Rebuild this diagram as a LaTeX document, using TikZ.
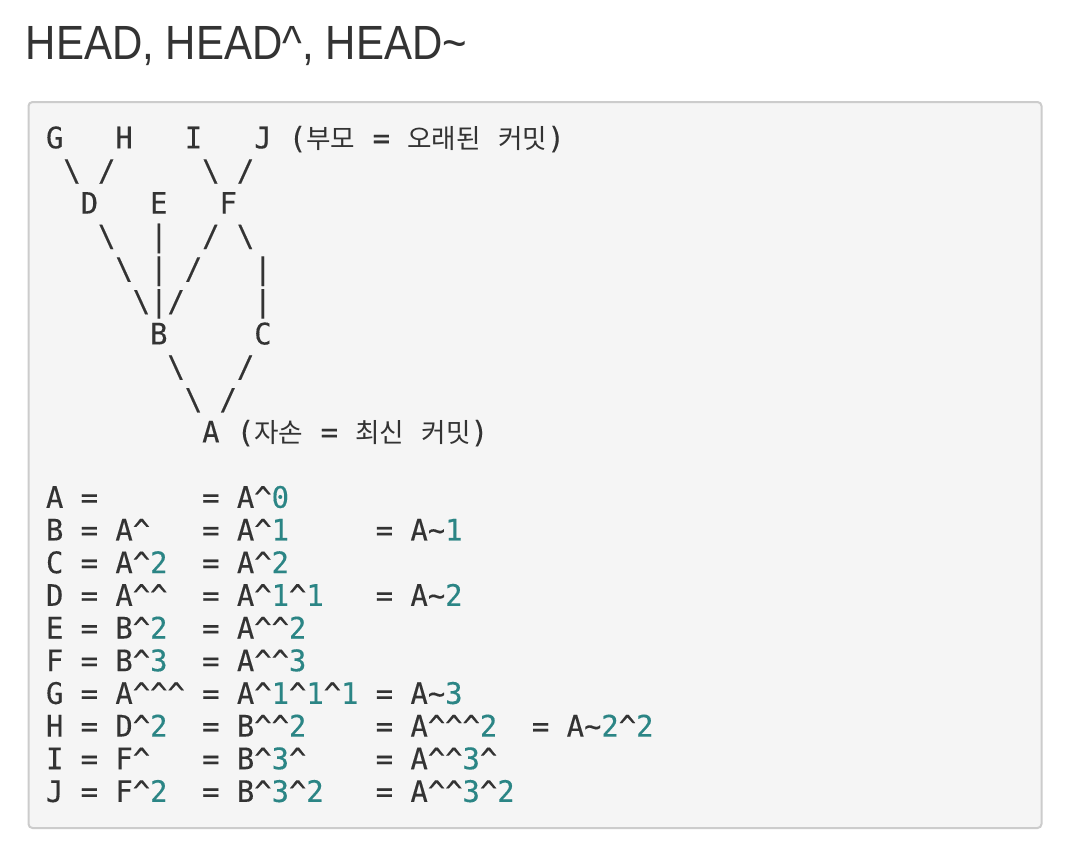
\documentclass[tikz,border=0pt]{standalone}
\usepackage{fontspec}
\setmainfont{Liberation Sans}
\newfontfamily\mono[FakeStretch=0.974,FakeBold=0.3]{DejaVu Sans Mono}
\newfontfamily\kr[Scale=0.9]{Noto Sans CJK KR}
\newfontfamily\titlefont[FakeStretch=0.875]{Liberation Sans}
\definecolor{txt}{HTML}{333333}
\definecolor{numc}{HTML}{2B8585}
\definecolor{boxfill}{HTML}{F5F5F5}
\definecolor{boxline}{HTML}{CCCCCC}
\newlength\charw
\setlength\charw{13.017pt}
\newcommand\gap[1]{\hspace*{#1\charw}}
\newcommand\crt{\textasciicircum}
\newcommand\tld{\textasciitilde}
\newcommand\bsl{\textbackslash}
\newcommand\pip{\textbar}
\newcommand\dg[1]{\textcolor{numc}{#1}}
\begin{document}
\begin{tikzpicture}[x=0.75pt,y=-0.75pt,
  codeline/.style={anchor=base west, inner sep=0pt, outer sep=0pt,
    font=\fontsize{22.2}{26}\mono, text=txt},
  titletext/.style={anchor=base west, inner sep=0pt, outer sep=0pt,
    font=\fontsize{36}{40}\titlefont, text=txt},
  codebox/.style={draw=boxline, fill=boxfill, line width=1.5pt, rounded corners=3pt}]
\useasboundingbox (0,0) rectangle (1068,844);
\fill[white] (0,0) rectangle (1068,844);
% title
\node[titletext] (title) at (26,59.3) {HEAD, HEAD\crt, HEAD\tld};
% code box
\draw[codebox] (28.5,102) rectangle (1041.5,828);
% tree
\node[codeline] (r0) at (46,148.3) {G\gap{3}H\gap{3}I\gap{3}J\gap{1}({\kr 부모}\gap{1}=\gap{1}{\kr 오래된}\gap{1}{\kr 커밋})};
\node[codeline] (r1) at (46,180.98) {\gap{1}\bsl\gap{1}/\gap{5}\bsl\gap{1}/};
\node[codeline] (r2) at (46,213.66) {\gap{2}D\gap{3}E\gap{3}F};
\node[codeline] (r3) at (46,246.34) {\gap{3}\bsl\gap{2}\pip\gap{2}/\gap{1}\bsl};
\node[codeline] (r4) at (46,279.02) {\gap{4}\bsl\gap{1}\pip\gap{1}/\gap{3}\pip};
\node[codeline] (r5) at (46,311.70) {\gap{5}\bsl\pip/\gap{4}\pip};
\node[codeline] (r6) at (46,344.38) {\gap{6}B\gap{5}C};
\node[codeline] (r7) at (46,377.06) {\gap{7}\bsl\gap{3}/};
\node[codeline] (r8) at (46,409.74) {\gap{8}\bsl\gap{1}/};
\node[codeline] (r9) at (46,442.42) {\gap{9}A\gap{1}({\kr 자손}\gap{1}=\gap{1}{\kr 최신}\gap{1}{\kr 커밋})};
% table
\node[codeline] (t0) at (46,507.78) {A\gap{1}=\gap{6}=\gap{1}A\crt\dg{0}};
\node[codeline] (t1) at (46,540.46) {B\gap{1}=\gap{1}A\crt\gap{3}=\gap{1}A\crt\dg{1}\gap{5}=\gap{1}A\tld\dg{1}};
\node[codeline] (t2) at (46,573.14) {C\gap{1}=\gap{1}A\crt\dg{2}\gap{2}=\gap{1}A\crt\dg{2}};
\node[codeline] (t3) at (46,605.82) {D\gap{1}=\gap{1}A\crt\crt\gap{2}=\gap{1}A\crt\dg{1}\crt\dg{1}\gap{3}=\gap{1}A\tld\dg{2}};
\node[codeline] (t4) at (46,638.50) {E\gap{1}=\gap{1}B\crt\dg{2}\gap{2}=\gap{1}A\crt\crt\dg{2}};
\node[codeline] (t5) at (46,671.18) {F\gap{1}=\gap{1}B\crt\dg{3}\gap{2}=\gap{1}A\crt\crt\dg{3}};
\node[codeline] (t6) at (46,703.86) {G\gap{1}=\gap{1}A\crt\crt\crt\gap{1}=\gap{1}A\crt\dg{1}\crt\dg{1}\crt\dg{1}\gap{1}=\gap{1}A\tld\dg{3}};
\node[codeline] (t7) at (46,736.54) {H\gap{1}=\gap{1}D\crt\dg{2}\gap{2}=\gap{1}B\crt\crt\dg{2}\gap{4}=\gap{1}A\crt\crt\crt\dg{2}\gap{2}=\gap{1}A\tld\dg{2}\crt\dg{2}};
\node[codeline] (t8) at (46,769.22) {I\gap{1}=\gap{1}F\crt\gap{3}=\gap{1}B\crt\dg{3}\crt\gap{4}=\gap{1}A\crt\crt\dg{3}\crt};
\node[codeline] (t9) at (46,801.90) {J\gap{1}=\gap{1}F\crt\dg{2}\gap{2}=\gap{1}B\crt\dg{3}\crt\dg{2}\gap{3}=\gap{1}A\crt\crt\dg{3}\crt\dg{2}};
\end{tikzpicture}
\end{document}
